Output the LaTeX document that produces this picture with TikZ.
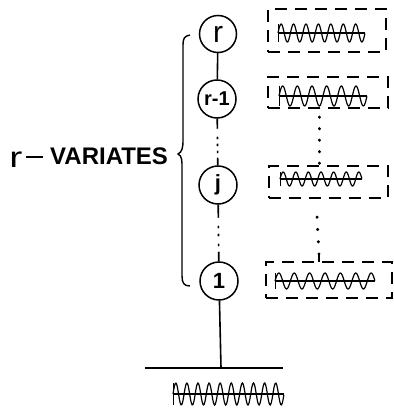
\documentclass[tikz,border=0pt]{standalone}
\usepackage{fontspec}
\setmainfont{Liberation Sans}
\usetikzlibrary{positioning}
\tikzset{
  varnode/.style={circle,draw,line width=1.5pt,minimum size=37pt,inner sep=0pt},
  seriesbox/.style={rectangle,draw,line width=1.2pt,dash pattern=on 12pt off 8pt,inner sep=0pt},
  wave/.style={line width=1.2pt,smooth},
  link/.style={line width=1.6pt},
  dotlink/.style={line width=3pt,line cap=round,dash pattern=on 0.4pt off 11.1pt}
}
% #1 start x, #2 end x, #3 baseline y, #4 amplitude, #5 cycles
\newcommand{\wavetrace}[5]{
\draw[wave,samples=140,domain=0:1] plot ({#1+(#2-#1)*\x},{#3-#4*sin(360*#5*\x)});
\draw[line width=1.4pt] (#1,#3) -- (#2,#3);
\draw[line width=1pt] (#1,#3-#4) -- (#1,#3+#4);
}
\begin{document}
\begin{tikzpicture}[x=1pt,y=-1pt]
\useasboundingbox (0,0) rectangle (393,409);
\node[varnode,font=\fontsize{30}{30}\selectfont,text depth=0pt] (nr) at (218,34) {r};
\node[varnode,minimum size=38pt,font=\fontsize{20}{20}\selectfont\bfseries] (nrm) at (217,99) {r-1};
\node[varnode,minimum size=38pt,font=\fontsize{22}{22}\selectfont\bfseries] (nj) at (218,185) {j};
\node[varnode,minimum size=38pt,font=\fontsize{22}{22}\selectfont\bfseries] (none) at (219,281) {1};
\coordinate (base) at (221,368);
\draw[link] (nr) -- (nrm);
\draw[link,dash pattern=on 10pt off 8pt on 2.5pt off 4.5pt on 2.5pt off 4.5pt on 2.5pt off 4.5pt on 12pt] (nrm) -- (nj);
\draw[link,dash pattern=on 13pt off 8pt on 2.5pt off 5.5pt on 2.5pt off 7.5pt on 2.5pt off 5.5pt on 14pt] (nj) -- (none);
\draw[link] (none) -- (base);
\draw[line width=1.8pt] (145,368) -- (283,368);

\node[seriesbox,minimum width=118pt,minimum height=43pt] (bxr) at (327,30.5) {};
\node[seriesbox,minimum width=120pt,minimum height=31pt] (bxm) at (328,92.5) {};
\node[seriesbox,minimum width=119pt,minimum height=32pt] (bxj) at (328.5,182) {};
\node[seriesbox,minimum width=126pt,minimum height=36pt] (bxa) at (329,280) {};

\wavetrace{278}{365}{33}{9}{7}
\wavetrace{279}{367}{96}{10}{6}
\wavetrace{280}{362}{179}{7}{6.5}
\wavetrace{275}{375}{281}{8}{6.5}
\wavetrace{173}{284}{394}{11}{10}

\coordinate (da) at (319,117);
\coordinate (db) at (319,164);
\coordinate (dc) at (317,217);
\coordinate (dd) at (319,254);
\draw[dotlink] (da) -- (db);
\draw[dotlink,dash pattern=on 0.4pt off 11.9pt] (dc) -- (dd);
\draw[line width=1.2pt] (dd) -- (319,262);

\draw[line width=1.4pt] (190,35) .. controls (184,36) and (183,39) .. (183,45) -- (183,140)
  .. controls (183,148) and (182,152) .. (178,154) .. controls (182,156) and (182,160) .. (182,168)
  -- (182,276) .. controls (182,283) and (184,286) .. (190,286);

\node[anchor=base west,inner sep=0pt,font=\fontsize{24}{24}\selectfont\bfseries] (varlabel) at (50,164) {VARIATES};
\node[anchor=base west,inner sep=0pt,xscale=1.35,font=\fontsize{29}{29}\selectfont] (rlabel) at (9,167) {r};
\coordinate (dl) at (26,157);
\coordinate (dr) at (43,157);
\draw[line width=1.8pt] (dl) -- (dr);
\end{tikzpicture}
\end{document}
